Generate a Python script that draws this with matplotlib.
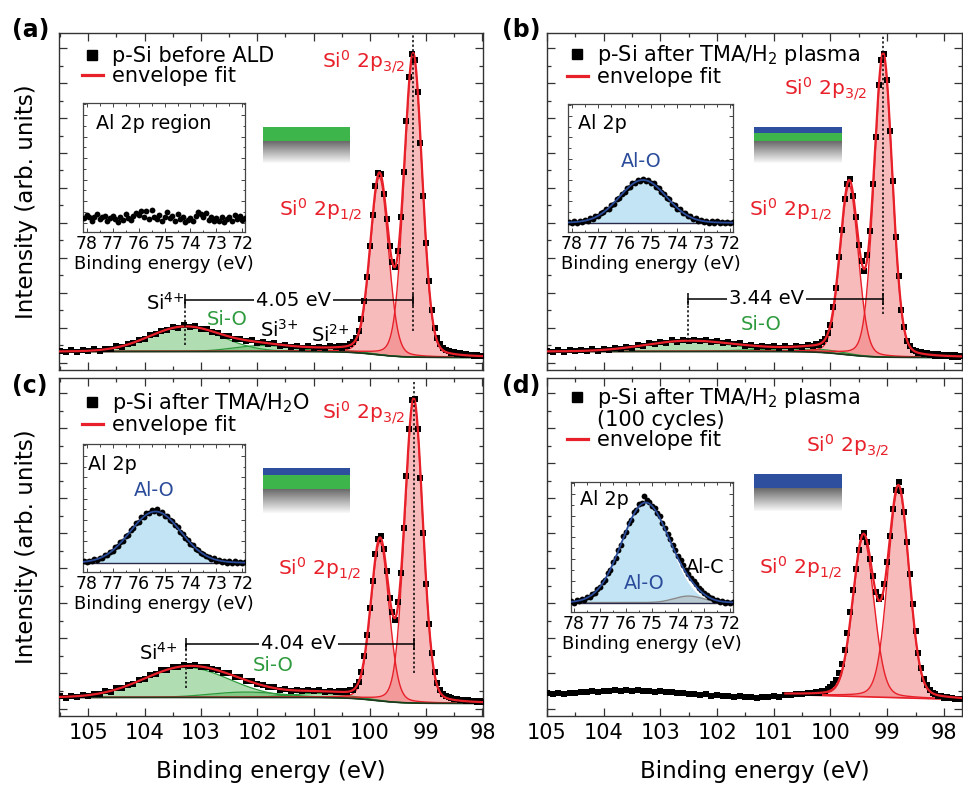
import numpy as np
import matplotlib
matplotlib.use('Agg')
import matplotlib.pyplot as plt
from matplotlib.lines import Line2D
from matplotlib.ticker import MultipleLocator, FixedLocator
from matplotlib.colors import to_rgb

plt.rcParams['font.family'] = ['DejaVu Sans']
plt.rcParams['mathtext.fontset'] = 'dejavusans'

W, H = 963, 787

RED = '#e8202a'
PINK = '#f07878'
GREEN = '#2e9a3e'
GREEN_FILL = '#52b455'
BG_LINE = '#1e361e'
BLUE = '#2b4c9b'
BLUE_FILL = '#c2e4f4'
GREEN_L = '#3db54a'
BLUE_L = '#2d4f9e'

# ---------------- Si 2p spectra ----------------
# 0.1 eV steps on the oxide side, 0.05 eV across the Si0 doublet
e_ac = np.round(np.r_[np.linspace(105.5, 100.6, 50), np.linspace(100.55, 98.0, 52)], 2)
e_bd = np.round(np.r_[np.linspace(105.0, 100.3, 48), np.linspace(100.25, 97.7, 52)], 2)

int_a = [0.002, -0.003, 0.004, -0.001, 0.005, 0.001, 0.007, 0.003, 0.010, 0.008,
         0.017, 0.016, 0.026, 0.028, 0.040, 0.042, 0.055, 0.058, 0.070, 0.072,
         0.083, 0.080, 0.088, 0.083, 0.085, 0.076, 0.075, 0.064, 0.063, 0.053,
         0.052, 0.043, 0.043, 0.034, 0.037, 0.029, 0.033, 0.025, 0.028, 0.020,
         0.023, 0.016, 0.019, 0.013, 0.017, 0.011, 0.016, 0.012, 0.017, 0.014,
         0.017, 0.013, 0.019, 0.020, 0.025, 0.031, 0.045, 0.070, 0.108, 0.169,
         0.250, 0.355, 0.458, 0.555, 0.598, 0.593, 0.529, 0.444, 0.352, 0.301,
         0.283, 0.338, 0.450, 0.603, 0.772, 0.918, 0.995, 0.978, 0.868, 0.700,
         0.520, 0.362, 0.236, 0.138, 0.080, 0.045, 0.024, 0.012, 0.004, 0.000,
         -0.004, -0.003, -0.008, -0.006, -0.011, -0.009, -0.013, -0.011, -0.015, -0.012,
         -0.016, -0.014]

int_b = [0.003, -0.002, 0.004, -0.001, 0.005, 0.000, 0.006, 0.001, 0.007, 0.003,
         0.009, 0.005, 0.012, 0.009, 0.016, 0.013, 0.022, 0.019, 0.027, 0.024,
         0.033, 0.029, 0.037, 0.033, 0.040, 0.034, 0.040, 0.034, 0.038, 0.031,
         0.035, 0.028, 0.031, 0.024, 0.027, 0.020, 0.023, 0.016, 0.020, 0.014,
         0.018, 0.013, 0.018, 0.013, 0.019, 0.015, 0.021, 0.019,
         0.025, 0.022, 0.031, 0.042, 0.062, 0.088, 0.150, 0.212, 0.318, 0.408,
         0.512, 0.560, 0.578, 0.520, 0.452, 0.356, 0.304, 0.270, 0.322, 0.402,
         0.561, 0.718, 0.892, 0.978, 0.998, 0.908, 0.738, 0.570, 0.382, 0.254,
         0.140, 0.082, 0.035, 0.020, 0.004, 0.003, -0.006, -0.003, -0.010, -0.006,
         -0.012, -0.008, -0.014, -0.010, -0.015, -0.011, -0.016, -0.012, -0.017, -0.013,
         -0.018, -0.014]

int_c = [0.004, -0.001, 0.005, 0.002, 0.008, 0.006, 0.013, 0.011, 0.020, 0.019,
         0.030, 0.031, 0.043, 0.045, 0.058, 0.062, 0.075, 0.077, 0.090, 0.091,
         0.102, 0.101, 0.110, 0.106, 0.109, 0.101, 0.103, 0.094, 0.093, 0.083,
         0.080, 0.069, 0.067, 0.055, 0.054, 0.044, 0.042, 0.034, 0.034, 0.026,
         0.029, 0.023, 0.026, 0.021, 0.025, 0.020, 0.025, 0.019, 0.023, 0.018,
         0.022, 0.017, 0.021, 0.018, 0.024, 0.026, 0.038, 0.053, 0.085, 0.137,
         0.207, 0.299, 0.389, 0.480, 0.530, 0.539, 0.495, 0.421, 0.331, 0.286,
         0.259, 0.319, 0.417, 0.566, 0.740, 0.895, 0.994, 0.998, 0.895, 0.733,
         0.550, 0.380, 0.245, 0.150, 0.086, 0.048, 0.026, 0.013, 0.006, 0.001,
         -0.002, -0.006, -0.004, -0.009, -0.007, -0.012, -0.009, -0.013, -0.011, -0.015,
         -0.012, -0.016]

int_d = [0.014, 0.010, 0.015, 0.011, 0.016, 0.014, 0.019, 0.017, 0.022, 0.019,
         0.023, 0.020, 0.024, 0.021, 0.025, 0.022, 0.024, 0.020, 0.023, 0.019,
         0.022, 0.017, 0.019, 0.014, 0.016, 0.011, 0.012, 0.008, 0.010, 0.006,
         0.008, 0.004, 0.006, 0.002, 0.004, 0.000, 0.003, -0.001, 0.002, 0.000,
         0.004, 0.003, 0.008, 0.007, 0.011, 0.010, 0.014, 0.015,
         0.017, 0.016, 0.021, 0.022, 0.028, 0.034, 0.045, 0.058, 0.080, 0.112,
         0.160, 0.215, 0.285, 0.358, 0.430, 0.492, 0.535, 0.548, 0.520, 0.462,
         0.405, 0.352, 0.330, 0.334, 0.380, 0.452, 0.540, 0.628, 0.692, 0.718,
         0.690, 0.618, 0.520, 0.412, 0.312, 0.222, 0.150, 0.098, 0.062, 0.040,
         0.026, 0.016, 0.010, 0.005, 0.004, -0.001, 0.001, -0.003, -0.002, -0.005,
         -0.004, -0.006]

# fit components: (centre eV, height, FWHM eV)
shift_a, shift_b, shift_c = 4.05, 3.44, 4.04
si0_a = [(99.23, 1.010, 0.38), (99.83, 0.595, 0.38)]
siox_a = [(99.23 + shift_a, 0.083, 1.5), (101.9, 0.020, 1.2), (100.9, 0.006, 1.0), (100.25, 0.004, 0.7)]
si0_b = [(99.07, 1.010, 0.38), (99.67, 0.567, 0.38)]
siox_b = [(99.07 + shift_b, 0.035, 1.8), (101.2, 0.006, 1.3), (100.2, 0.010, 1.0)]
si0_c = [(99.22, 1.011, 0.38), (99.82, 0.530, 0.38)]
siox_c = [(99.22 + shift_c, 0.100, 1.8), (102.2, 0.018, 1.5), (100.9, 0.014, 1.2)]
si0_d = [(98.80, 0.700, 0.44), (99.42, 0.530, 0.44)]

# backgrounds: step (high-BE level, low-BE level, step centre) / linear end points
bg_a = (0.0, -0.02, 99.90)
bg_b = (0.0, -0.02, 99.75)
bg_c = (0.0, -0.02, 99.90)
bg_d = ((100.8, 0.010), (97.7, -0.007))

# ---------------- Al 2p insets ----------------
e_al = np.round(np.linspace(78.1, 71.9, 63), 2)

al_a = [0.10, 0.18, 0.12, 0.05, 0.14, 0.20, 0.08, 0.12, 0.16, 0.04,
        0.10, 0.15, 0.09, 0.02, 0.13, 0.07, 0.19, 0.11, 0.06, 0.15,
        0.22, 0.17, 0.28, 0.12, 0.26, 0.09, 0.30, 0.14, 0.08, 0.18,
        0.05, 0.12, 0.24, 0.10, 0.16, 0.03, 0.20, 0.08, 0.13, 0.01,
        0.06, 0.11, 0.04, 0.15, 0.25, 0.19, 0.12, 0.22, 0.07, 0.14,
        0.03, 0.10, 0.05, 0.13, 0.02, 0.08, 0.12, 0.04, 0.18, 0.09,
        0.15, 0.06, 0.11]
al_b = [0.02, -0.01, 0.03, 0.00, 0.04, 0.02, 0.06, 0.05, 0.10, 0.09,
        0.15, 0.16, 0.22, 0.24, 0.31, 0.33, 0.42, 0.45, 0.55, 0.59,
        0.68, 0.72, 0.81, 0.84, 0.92, 0.93, 0.99, 0.98, 1.03, 0.98,
        0.99, 0.93, 0.92, 0.84, 0.81, 0.72, 0.68, 0.59, 0.55, 0.45,
        0.42, 0.33, 0.31, 0.23, 0.22, 0.15, 0.15, 0.09, 0.10, 0.05,
        0.07, 0.02, 0.05, 0.00, 0.03, -0.01, 0.03, 0.00, 0.02, -0.01,
        0.02, 0.00, 0.02]
al_c = [0.04, 0.01, 0.05, 0.03, 0.08, 0.07, 0.12, 0.12, 0.18, 0.19,
        0.26, 0.28, 0.36, 0.39, 0.48, 0.52, 0.62, 0.66, 0.77, 0.81,
        0.92, 0.95, 1.06, 1.07, 1.17, 1.16, 1.24, 1.21, 1.25, 1.17,
        1.18, 1.10, 1.09, 1.01, 0.97, 0.88, 0.83, 0.73, 0.68, 0.58,
        0.54, 0.45, 0.41, 0.33, 0.30, 0.23, 0.21, 0.15, 0.14, 0.09,
        0.10, 0.05, 0.07, 0.02, 0.05, 0.00, 0.04, 0.00, 0.03, -0.01,
        0.02, -0.01, 0.02]
al_d = [0.03, 0.00, 0.05, 0.04, 0.08, 0.07, 0.13, 0.13, 0.20, 0.22,
        0.31, 0.35, 0.47, 0.53, 0.67, 0.76, 0.93, 1.02, 1.21, 1.32,
        1.52, 1.63, 1.82, 1.91, 2.08, 2.14, 2.27, 2.30, 2.45, 2.36,
        2.32, 2.22, 2.18, 2.06, 1.98, 1.83, 1.72, 1.57, 1.46, 1.32,
        1.20, 1.08, 0.97, 0.86, 0.76, 0.66, 0.57, 0.49, 0.42, 0.34,
        0.28, 0.22, 0.17, 0.12, 0.10, 0.06, 0.05, 0.02, 0.03, 0.00,
        0.02, -0.01, 0.01]

alo_b = (75.30, 1.00, 2.10)
alo_c = (75.35, 1.20, 2.30)
alo_d = (75.25, 2.30, 2.15)
alc_d = (73.60, 0.15, 1.30)


def gauss(e, c, h, w):
    return h * np.exp(-4 * np.log(2) * ((e - c) / w) ** 2)


def pvoigt(e, c, h, w, eta=0.15):
    x = (e - c) / w
    return h * (eta / (1 + 4 * x ** 2) + (1 - eta) * np.exp(-4 * np.log(2) * x ** 2))


def step_bg(e, hi, lo, c):
    return lo + (hi - lo) / (1 + np.exp(-(e - c) / 0.25))


def lin_bg(e, p0, p1):
    return p0[1] + (p1[1] - p0[1]) * (e - p0[0]) / (p1[0] - p0[0])


def si2p(ax, e, y, si0, siox, bgfun, xlim, fit_hi=None, bg_col=BG_LINE):
    ef = np.linspace(xlim[0], xlim[1], 1500)
    if fit_hi is not None:
        ef = ef[ef <= fit_hi]
    base = bgfun(ef)
    env = base.copy()
    for c, h, w in siox:
        comp = gauss(ef, c, h, w)
        ax.fill_between(ef, base, base + comp, color=GREEN_FILL, alpha=0.45, lw=0, zorder=1)
        ax.plot(ef, base + comp, color=GREEN, lw=0.9, zorder=2)
        env = env + comp
    for c, h, w in si0:
        comp = pvoigt(ef, c, h, w)
        ax.fill_between(ef, base, base + comp, color=PINK, alpha=0.5, lw=0, zorder=1)
        ax.plot(ef, base + comp, color=RED, lw=1.0, zorder=2)
        env = env + comp
    ax.plot(ef, base, color=bg_col, lw=1.2, zorder=2)
    ax.plot(e, y, 's', color='k', ms=5.0, mew=0, zorder=3)
    ax.plot(ef, env, color=RED, lw=1.6, zorder=4)


def style_main(ax, xlim, labels):
    ax.set_xlim(*xlim)
    ax.set_ylim(-0.062, 1.067)
    ax.xaxis.set_major_locator(MultipleLocator(1))
    ax.xaxis.set_minor_locator(MultipleLocator(0.5))
    ax.yaxis.set_major_locator(FixedLocator(np.arange(-0.037, 1.06, 0.117)))
    ax.yaxis.set_minor_locator(FixedLocator(np.arange(0.0215, 1.06, 0.117)))
    ax.tick_params(which='both', direction='in', top=True, right=True,
                   width=0.9, color='#333333', labelleft=False)
    ax.tick_params(which='major', length=5.5)
    ax.tick_params(which='minor', length=3)
    ax.tick_params(axis='x', labelbottom=labels, labelsize=15, pad=5)
    for s in ax.spines.values():
        s.set_linewidth(1.0)
        s.set_color('#333333')
    if labels:
        ax.set_xlabel('Binding energy (eV)', fontsize=16.6)
        ax.xaxis.set_label_coords(0.5, -0.13)


def legend(ax, labels, x, y):
    square = Line2D([], [], ls='none', marker='s', color='k', ms=7)
    line = Line2D([], [], color=RED, lw=2.3)
    blank = Line2D([], [], ls='none')
    handles = [square, line] if len(labels) == 2 else [square, blank, line]
    ax.legend(handles, labels, loc='upper left', bbox_to_anchor=(x, y), frameon=False,
              fontsize=15, handlelength=1.0, handletextpad=0.45, labelspacing=0.0,
              borderaxespad=0, borderpad=0)


def gap(ax, x_hi, x_lo, y, text, x_text):
    ax.plot([x_hi, x_lo], [y, y], color='k', lw=1.1, zorder=5)
    ax.plot([x_hi, x_lo], [y, y], ls='none', marker='|', ms=9, mew=1.1, color='k', zorder=5)
    ax.text(x_text, y, text, ha='center', va='center', fontsize=14, zorder=6,
            bbox=dict(fc='white', ec='none', pad=1.5))


def dotted(ax, x, y0, y1):
    ax.plot([x, x], [y0, y1], color='k', lw=1.1, ls=(0, (1.5, 1.5)), zorder=5)


def al2p(fig, rect, y, comps=None, extra=None):
    ax = fig.add_axes([rect[0] / W, 1 - rect[3] / H, (rect[2] - rect[0]) / W, (rect[3] - rect[1]) / H])
    ax.set_xlim(78.13, 71.9)
    ax.set_ylim(-0.21, 2.78)
    ef = np.linspace(78.13, 71.9, 400)
    if comps is not None:
        main = gauss(ef, *comps)
        env = main.copy()
        ax.fill_between(ef, 0, main, color=BLUE_FILL, lw=0, zorder=1)
        if extra is not None:
            side = gauss(ef, *extra)
            ax.fill_between(ef, 0, side, color='#b0b0b0', alpha=0.5, lw=0, zorder=1)
            ax.plot(ef, side, color='#8a8a8a', lw=1.0, zorder=2)
            env = env + side
    ax.plot(e_al, y, 'o', color='k', ms=4.2, mew=0, zorder=3)
    if comps is not None:
        ax.plot(ef, env, color=BLUE, lw=1.3, zorder=4)
        ax.plot(ef, np.zeros_like(ef), color='#2a2a4a', lw=1.0, zorder=2)
    ax.xaxis.set_major_locator(MultipleLocator(1))
    ax.xaxis.set_minor_locator(MultipleLocator(0.5))
    ax.yaxis.set_major_locator(MultipleLocator(0.5))
    ax.yaxis.set_minor_locator(MultipleLocator(0.25))
    ax.tick_params(which='both', direction='in', top=True, right=True, width=0.7,
                   color='#444444', labelleft=False, labelsize=12.5, pad=2.5)
    ax.tick_params(which='major', length=3)
    ax.tick_params(which='minor', length=1.8)
    for s in ax.spines.values():
        s.set_linewidth(0.9)
        s.set_color('#444444')
    ax.set_xlabel('Binding energy (eV)', fontsize=13, labelpad=1)
    return ax


def layer_stack(fig, x0, x1, bands, grad):
    rows = []
    for color, t, b in bands:
        rows += [to_rgb(color)] * (b - t)
    n = grad[1] - grad[0]
    for i in range(n):
        g = 0.42 + 0.55 * i / (n - 1)
        rows.append((g, g, g))
    img = np.array(rows)[:, None, :].repeat(2, axis=1)
    top, bottom = bands[0][1], grad[1]
    ax = fig.add_axes([x0 / W, 1 - bottom / H, (x1 - x0) / W, (bottom - top) / H])
    ax.imshow(img, aspect='auto', interpolation='nearest')
    ax.set_axis_off()


fig = plt.figure(figsize=(9.63, 7.87), dpi=100)

xl_left = (105.52, 97.99)
xl_right = (105.0, 97.68)

ax_a = fig.add_axes([59 / W, 1 - 370 / H, 424 / W, 337 / H])
ax_b = fig.add_axes([547 / W, 1 - 370 / H, 415 / W, 337 / H])
ax_c = fig.add_axes([59 / W, 1 - 716 / H, 424 / W, 338 / H])
ax_d = fig.add_axes([547 / W, 1 - 716 / H, 415 / W, 338 / H])

si2p(ax_a, e_ac, int_a, si0_a, siox_a, lambda e: step_bg(e, *bg_a), xl_left)
si2p(ax_b, e_bd, int_b, si0_b, siox_b, lambda e: step_bg(e, *bg_b), xl_right)
si2p(ax_c, e_ac, int_c, si0_c, siox_c, lambda e: step_bg(e, *bg_c), xl_left)
si2p(ax_d, e_bd, int_d, si0_d, [], lambda e: lin_bg(e, *bg_d), xl_right,
     fit_hi=bg_d[0][0], bg_col=RED)

style_main(ax_a, xl_left, False)
style_main(ax_b, xl_right, False)
style_main(ax_c, xl_left, True)
style_main(ax_d, xl_right, True)

for ax in (ax_a, ax_c):
    ax.set_ylabel('Intensity (arb. units)', fontsize=16.6)
    ax.yaxis.set_label_coords(-0.05, 0.5)

legend(ax_a, ['p-Si before ALD', 'envelope fit'], 0.054, 0.96)
legend(ax_b, ['p-Si after TMA/H$_2$ plasma', 'envelope fit'], 0.048, 0.969)
legend(ax_c, ['p-Si after TMA/H$_2$O', 'envelope fit'], 0.054, 0.961)
legend(ax_d, ['p-Si after TMA/H$_2$ plasma', '(100 cycles)', 'envelope fit'], 0.048, 0.975)

lab32 = 'Si$^0$ 2p$_{3/2}$'
lab12 = 'Si$^0$ 2p$_{1/2}$'
kw_red = dict(color=RED, fontsize=14.5, va='center', ha='right')
kw_ox = dict(ha='center', va='center', fontsize=14)

# (a)
ax_a.text(99.37, 0.97, lab32, **kw_red)
ax_a.text(100.14, 0.475, lab12, **kw_red)
ax_a.text(103.64, 0.164, 'Si$^{4{+}}$', **kw_ox)
ax_a.text(102.54, 0.107, 'Si-O', color=GREEN, **kw_ox)
ax_a.text(101.6, 0.074, 'Si$^{3{+}}$', **kw_ox)
ax_a.text(100.71, 0.057, 'Si$^{2{+}}$', **kw_ox)
gap(ax_a, si0_a[0][0] + shift_a, si0_a[0][0], 0.172, '%.2f eV' % shift_a, 101.36)
dotted(ax_a, si0_a[0][0] + shift_a, 0.023, 0.172)
dotted(ax_a, si0_a[0][0], 0.07, 1.06)

# (b)
ax_b.text(99.36, 0.88, lab32, **kw_red)
ax_b.text(99.98, 0.475, lab12, **kw_red)
ax_b.text(101.22, 0.09, 'Si-O', color=GREEN, **kw_ox)
gap(ax_b, si0_b[0][0] + shift_b, si0_b[0][0], 0.176, '%.2f eV' % shift_b, 101.13)
dotted(ax_b, si0_b[0][0] + shift_b, 0.04, 0.176)
dotted(ax_b, si0_b[0][0], 0.124, 1.06)

# (c)
ax_c.text(99.37, 0.95, lab32, **kw_red)
ax_c.text(100.16, 0.43, lab12, **kw_red)
ax_c.text(103.76, 0.15, 'Si$^{4{+}}$', **kw_ox)
ax_c.text(101.72, 0.107, 'Si-O', color=GREEN, **kw_ox)
gap(ax_c, si0_c[0][0] + shift_c, si0_c[0][0], 0.18, '%.2f eV' % shift_c, 101.27)
dotted(ax_c, si0_c[0][0] + shift_c, 0.033, 0.18)
dotted(ax_c, si0_c[0][0], 0.08, 1.06)

# (d)
ax_d.text(98.97, 0.84, lab32, **kw_red)
ax_d.text(99.8, 0.435, lab12, **kw_red)

# layer sketches
layer_stack(fig, 263, 350, [(GREEN_L, 127, 141)], (141, 163))
layer_stack(fig, 754, 842, [(BLUE_L, 127, 133), (GREEN_L, 133, 141)], (141, 163))
layer_stack(fig, 263, 350, [(BLUE_L, 468, 475), (GREEN_L, 475, 489)], (489, 513))
layer_stack(fig, 754, 842, [(BLUE_L, 474, 488)], (488, 511))

# Al 2p insets
in_a = al2p(fig, (83.3, 103.0, 245.0, 231.7), al_a)
in_a.text(0.08, 0.84, 'Al 2p region', transform=in_a.transAxes, fontsize=13.8, va='center')

in_b = al2p(fig, (568.3, 104.0, 732.7, 231.7), al_b, alo_b)
in_b.text(0.06, 0.85, 'Al 2p', transform=in_b.transAxes, fontsize=13.8, va='center')
in_b.text(75.35, 1.43, 'Al-O', color=BLUE, ha='center', va='center', fontsize=13.8)

in_c = al2p(fig, (83.3, 444.0, 245.0, 571.7), al_c, alo_c)
in_c.text(0.03, 0.84, 'Al 2p', transform=in_c.transAxes, fontsize=13.8, va='center')
in_c.text(75.4, 1.70, 'Al-O', color=BLUE, ha='center', va='center', fontsize=13.8)

in_d = al2p(fig, (570.7, 481.7, 732.7, 611.7), al_d, alo_d, alc_d)
in_d.text(0.057, 0.86, 'Al 2p', transform=in_d.transAxes, fontsize=13.8, va='center')
in_d.text(75.31, 0.45, 'Al-O', color=BLUE, ha='center', va='center', fontsize=13.8)
in_d.text(72.97, 0.80, 'Al-C', ha='center', va='center', fontsize=13.8)

for lab, x, y in (('(a)', 12, 30), ('(b)', 502, 30), ('(c)', 12, 386), ('(d)', 502, 386)):
    fig.text(x / W, 1 - y / H, lab, fontsize=17, fontweight='bold', ha='left', va='center')

fig.savefig('out.png', dpi=100)
